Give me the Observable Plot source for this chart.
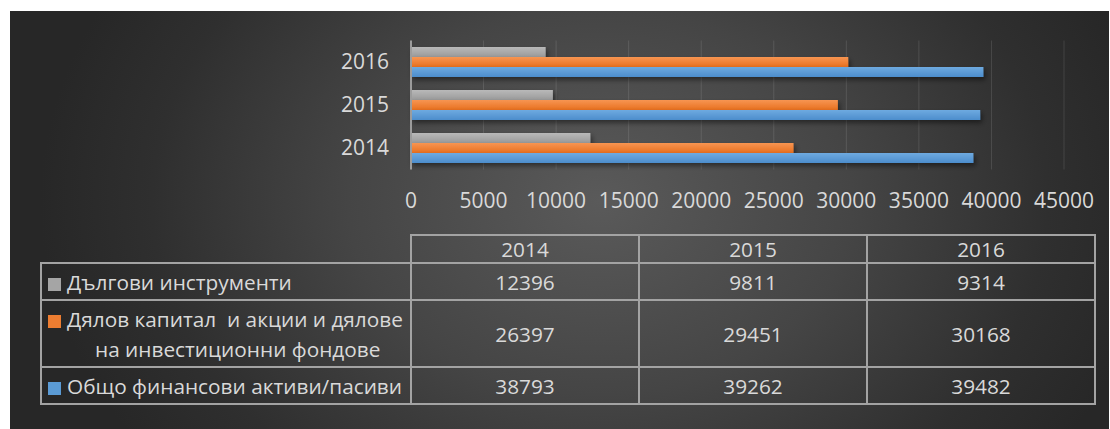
<!DOCTYPE html>
<html>
<head>
<meta charset="utf-8">
<script src="https://cdn.jsdelivr.net/npm/d3@7"></script>
<script src="https://cdn.jsdelivr.net/npm/@observablehq/plot@0.6"></script>
<style>
  html, body { margin: 0; padding: 0; background: #ffffff; }
  body { width: 1110px; height: 429px; position: relative; overflow: hidden; font-family: "Open Sans", sans-serif; }
  #panel {
    position: absolute; left: 10px; top: 11px; width: 1099px; height: 418px;
    background: radial-gradient(ellipse 560px 430px at 590px 190px, #5a5a5a 0%, #454545 45%, #2f2f2f 80%, #272727 100%);
  }
  #chart { position: absolute; left: 0; top: 0; }
  table.dt {
    position: absolute; left: 40px; top: 234px; width: 1054px;
    border-collapse: collapse; table-layout: fixed;
    color: #d9d9d9; font-family: "Open Sans", sans-serif; font-size: 20.8px;
  }
  table.dt td { border: 2px solid #a3a3a3; padding: 0; text-align: center; white-space: nowrap; line-height: 24px; }
  table.dt td.corner { border-top: none; border-left: none; }
  table.dt td.lab { text-align: left; padding-left: 6px; }
  table.dt td.two { line-height: 30px; }
  .key { display: inline-block; width: 13px; height: 13px; margin-right: 6px; vertical-align: -1px; }
  .l2 { padding-left: 47px; }
</style>
</head>
<body>
<div id="panel"></div>
<div id="chart"></div>
<script>
// ---- data ----
const years = ["2014", "2015", "2016"];
const seriesNames = ["Дългови инструменти", "Дялов капитал  и акции и дялове на инвестиционни фондове", "Общо финансови активи/пасиви"];
const debtInstruments = [12396, 9811, 9314];
const equityShares = [26397, 29451, 30168];
const totalAssets = [38793, 39262, 39482];
const xTicks = [0, 5000, 10000, 15000, 20000, 25000, 30000, 35000, 40000, 45000];
const seriesColors = ["#a5a5a5", "#ed7d31", "#5b9bd5"];

const rows = years.map((y, i) => ({year: y, debt: debtInstruments[i], equity: equityShares[i], total: totalAssets[i]}));

const svg = Plot.plot({
  width: 1110,
  height: 230,
  marginLeft: 410.5,
  marginRight: 46.5,
  marginTop: 40.5,
  marginBottom: 60.5,
  style: {background: "transparent", color: "#d9d9d9", fontFamily: "Open Sans, sans-serif", fontSize: "21px"},
  x: {domain: [0, 45000], ticks: xTicks, tickFormat: "d", tickSize: 0, tickPadding: 23, label: null},
  y: {domain: [...years].reverse(), paddingInner: 0.3, paddingOuter: 0.15, tickSize: 0, tickPadding: 22, label: null},
  marks: [
    Plot.ruleX(xTicks, {stroke: "#d9d9d9", strokeOpacity: 0.14}),
    Plot.barX(rows, {x: "debt", y: "year", fill: "url(#gGray)", insetBottom: 20}),
    Plot.barX(rows, {x: "equity", y: "year", fill: "url(#gOrange)", insetTop: 10, insetBottom: 10}),
    Plot.barX(rows, {x: "total", y: "year", fill: "url(#gBlue)", insetTop: 20}),
    Plot.ruleX([0], {stroke: "#9c9c9c", strokeWidth: 2})
  ]
});

// gradients + shadow
const sel = d3.select(svg);
const defs = sel.insert("defs", ":first-child");
const grads = [
  ["gGray", "#b9b9b9", "#9a9a9a"],
  ["gOrange", "#f79552", "#e8701f"],
  ["gBlue", "#6eaae0", "#4c8dcc"]
];
for (const [id, c1, c2] of grads) {
  const g = defs.append("linearGradient").attr("id", id).attr("x1", 0).attr("y1", 0).attr("x2", 0).attr("y2", 1);
  g.append("stop").attr("offset", "0%").attr("stop-color", c1);
  g.append("stop").attr("offset", "100%").attr("stop-color", c2);
}
const f = defs.append("filter").attr("id", "shadow").attr("x", "-5%").attr("y", "-40%").attr("width", "115%").attr("height", "200%");
f.append("feDropShadow").attr("dx", 2).attr("dy", 3).attr("stdDeviation", 2.5).attr("flood-color", "#000").attr("flood-opacity", 0.45);
sel.selectAll("g[aria-label='bar']").attr("filter", "url(#shadow)");
document.getElementById("chart").appendChild(svg);

// data table below
const table = document.createElement("table");
table.className = "dt";
const colW = [370, 228, 228, 228];
const cg = document.createElement("colgroup");
for (const w of colW) { const c = document.createElement("col"); c.style.width = w + "px"; cg.appendChild(c); }
table.appendChild(cg);
const hr = document.createElement("tr");
hr.style.height = "28px";
const corner = document.createElement("td"); corner.className = "corner"; hr.appendChild(corner);
for (const y of years) { const td = document.createElement("td"); td.textContent = y; hr.appendChild(td); }
table.appendChild(hr);
const seriesVals = [debtInstruments, equityShares, totalAssets];
const rowH = [37, 67, 37];
seriesVals.forEach((vals, si) => {
  const tr = document.createElement("tr");
  tr.style.height = rowH[si] + "px";
  const lab = document.createElement("td");
  lab.className = "lab";
  const key = `<span class="key" style="background:${seriesColors[si]}"></span>`;
  if (si === 1) {
    lab.classList.add("two");
    lab.innerHTML = `<div>${key}Дялов капитал&nbsp; и акции и дялове</div><div class="l2">на инвестиционни фондове</div>`;
  } else {
    lab.innerHTML = `${key}${seriesNames[si]}`;
  }
  tr.appendChild(lab);
  for (const v of vals) { const td = document.createElement("td"); td.textContent = String(v); tr.appendChild(td); }
  table.appendChild(tr);
});
document.body.appendChild(table);
</script>
</body>
</html>
